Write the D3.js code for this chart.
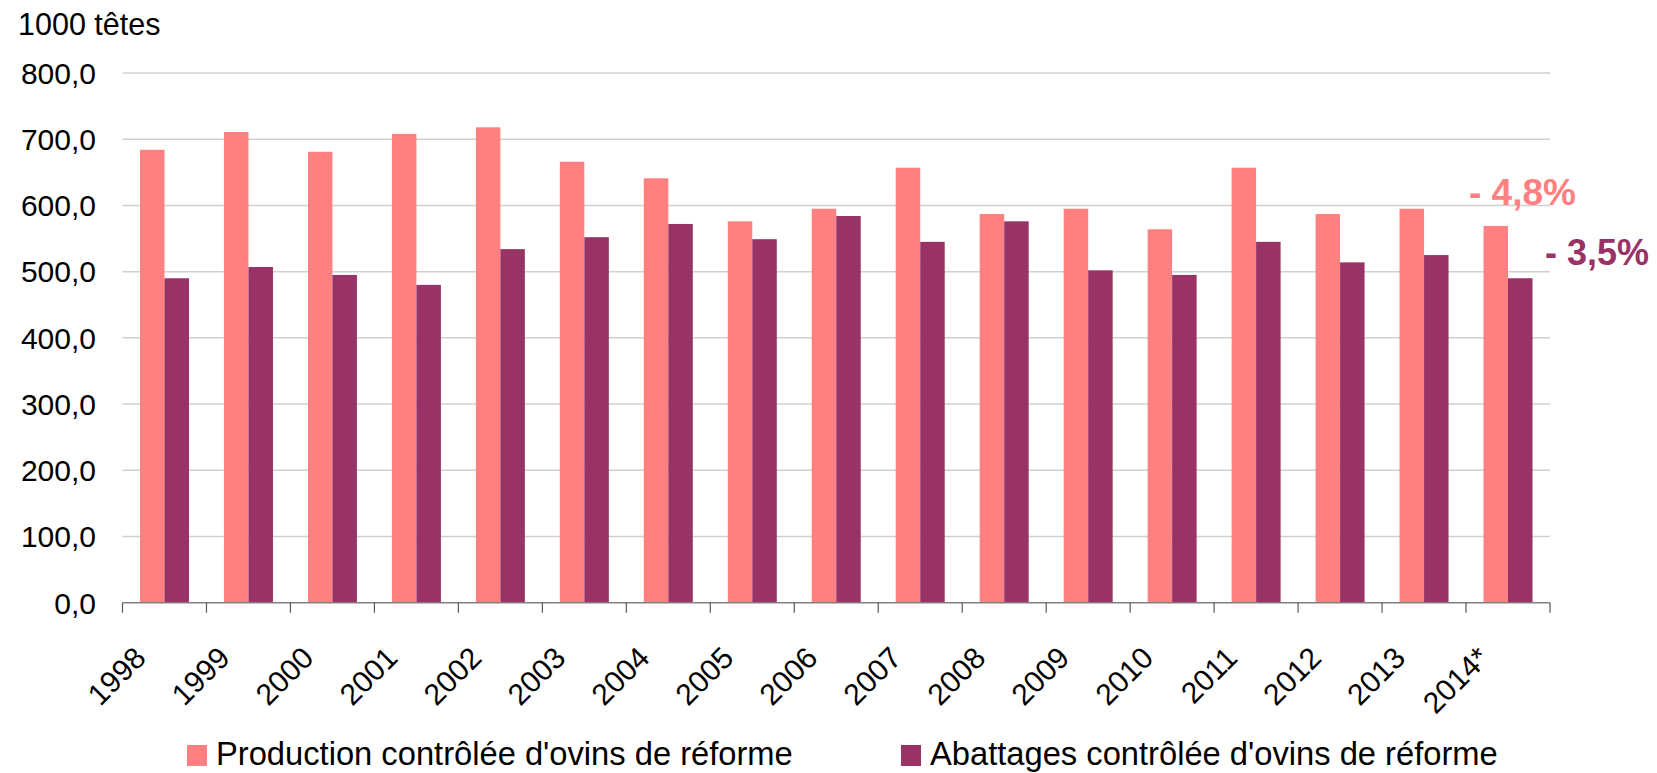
<!DOCTYPE html>
<html>
<head>
<meta charset="utf-8">
<script src="https://cdn.jsdelivr.net/npm/d3@7"></script>
<style>
  body { margin: 0; background: #fff; }
  svg { display: block; font-family: "Liberation Sans", Arial, sans-serif; }
</style>
</head>
<body>
<div id="chart"></div>
<script>
// data (1000 têtes)
const years = ['1998','1999','2000','2001','2002','2003','2004','2005','2006','2007','2008','2009','2010','2011','2012','2013','2014*'];
const production = [684, 711, 681, 708, 718, 666, 641, 576, 595, 657, 587, 595, 564, 657, 587, 595, 569];
const abattages = [490, 507, 495, 480, 534, 552, 572, 549, 584, 545, 576, 502, 495, 545, 514, 525, 490];
const yTicks = [0, 100, 200, 300, 400, 500, 600, 700, 800];
const seriesNames = ["Production contrôlée d'ovins de réforme", "Abattages contrôlée d'ovins de réforme"];
const seriesColors = ['#FF8080', '#993366'];
const changeLabels = ['- 4,8%', '- 3,5%'];

const W = 1657, H = 773;
const plot = { left: 122.5, right: 1550, top: 73, bottom: 602.7 };

const svg = d3.select('#chart').append('svg')
  .attr('width', W)
  .attr('height', H);

const x = d3.scaleBand()
  .domain(years)
  .range([plot.left, plot.right])
  .paddingInner(0)
  .paddingOuter(0);

// two bars side by side in the middle of each year slot
const xs = d3.scaleBand()
  .domain([0, 1])
  .range([0, x.bandwidth()])
  .paddingInner(0)
  .paddingOuter(0.714);

const y = d3.scaleLinear()
  .domain([0, 800])
  .range([plot.bottom, plot.top]);

// horizontal grid lines
svg.append('g')
  .selectAll('line')
  .data(yTicks.filter(d => d > 0))
  .enter()
  .append('line')
  .attr('x1', plot.left)
  .attr('x2', plot.right)
  .attr('y1', d => y(d))
  .attr('y2', d => y(d))
  .style('stroke', '#d0d0d0')
  .style('stroke-width', '1.5px');

// y tick labels
svg.append('g')
  .selectAll('text')
  .data(yTicks)
  .enter()
  .append('text')
  .attr('x', 96)
  .attr('y', d => y(d))
  .attr('dy', '0.36em')
  .style('text-anchor', 'end')
  .style('font-size', '30px')
  .style('fill', '#000')
  .text(d => d3.format('.1f')(d).replace('.', ','));

svg.append('text')
  .attr('x', 18)
  .attr('y', 35)
  .style('font-size', '30.5px')
  .style('fill', '#000')
  .text('1000 têtes');

// bars
const rows = years.map((yr, i) => ({ year: yr, values: [production[i], abattages[i]] }));

const groups = svg.append('g')
  .selectAll('g')
  .data(rows)
  .enter()
  .append('g')
  .attr('transform', d => `translate(${x(d.year)},0)`);

groups.selectAll('rect')
  .data(d => d.values.map((v, k) => ({ k, v })))
  .enter()
  .append('rect')
  .attr('x', d => xs(d.k))
  .attr('width', xs.bandwidth())
  .attr('y', d => y(d.v))
  .attr('height', d => y(0) - y(d.v))
  .style('fill', d => seriesColors[d.k]);

// x axis: line and ticks at slot boundaries
const axisG = svg.append('g');
axisG.append('line')
  .attr('x1', plot.left)
  .attr('x2', plot.right)
  .attr('y1', plot.bottom)
  .attr('y2', plot.bottom)
  .style('stroke', '#808080')
  .style('stroke-width', '1.5px');

const boundaries = years.map(d => x(d)).concat([plot.right]);
axisG.selectAll('.tick')
  .data(boundaries)
  .enter()
  .append('line')
  .attr('x1', d => d)
  .attr('x2', d => d)
  .attr('y1', plot.bottom)
  .attr('y2', plot.bottom + 10)
  .style('stroke', '#555')
  .style('stroke-width', '1.2px');

// rotated year labels
axisG.selectAll('.xl')
  .data(years)
  .enter()
  .append('text')
  .attr('transform', d => `translate(${x(d) + x.bandwidth() / 2 - 17},${plot.bottom + 57}) rotate(-45)`)
  .style('text-anchor', 'end')
  .style('font-size', '30px')
  .style('fill', '#000')
  .text(d => d);

// change annotations
svg.append('text')
  .attr('x', 1469)
  .attr('y', 205)
  .style('font-size', '37px')
  .style('font-weight', 'bold')
  .style('fill', seriesColors[0])
  .text(changeLabels[0]);

svg.append('text')
  .attr('x', 1545)
  .attr('y', 265)
  .style('font-size', '36px')
  .style('font-weight', 'bold')
  .style('fill', seriesColors[1])
  .text(changeLabels[1]);

// legend
const legendX = [187, 901];
const legend = svg.append('g')
  .selectAll('g')
  .data(seriesNames)
  .enter()
  .append('g')
  .attr('transform', (d, i) => `translate(${legendX[i]},745)`);

legend.append('rect')
  .attr('width', 20)
  .attr('height', 21)
  .style('fill', (d, i) => seriesColors[i]);

legend.append('text')
  .attr('x', 29)
  .attr('y', 20)
  .style('font-size', '32.7px')
  .style('fill', '#000')
  .text(d => d);
</script>
</body>
</html>
